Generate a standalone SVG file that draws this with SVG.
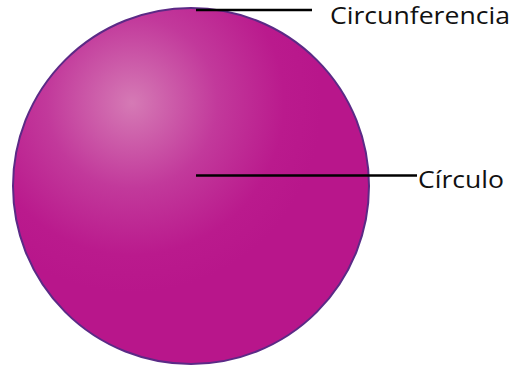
<svg xmlns="http://www.w3.org/2000/svg" width="524" height="366" viewBox="0 0 524 366">
<style>
.lbl{font-family:"Open Sans",Lato,sans-serif;font-size:24px;fill:#111}
.ln{stroke:#000;stroke-width:2.5}
</style>
<defs>
<radialGradient id="g" gradientUnits="userSpaceOnUse" cx="132" cy="103" r="190" fx="132" fy="103">
<stop offset="0" stop-color="#d57ab5"/>
<stop offset="0.45" stop-color="#c2399b"/>
<stop offset="0.8" stop-color="#ba1a8d"/>
<stop offset="1" stop-color="#b8168b"/>
</radialGradient>
</defs>
<g id="circulo">
<circle cx="191" cy="186" r="178" fill="url(#g)" stroke="#5b2a86" stroke-width="2"/>
</g>
<g id="connectors">
<line class="ln" x1="196" y1="10" x2="312" y2="10"/>
<line class="ln" x1="196" y1="175.5" x2="417" y2="175.5"/>
</g>
<g id="label-circunferencia"><text class="lbl" x="330" y="24" textLength="180" lengthAdjust="spacingAndGlyphs">Circunferencia</text></g>
<g id="label-circulo"><text class="lbl" x="418" y="188" textLength="86" lengthAdjust="spacingAndGlyphs">Círculo</text></g>
</svg>
